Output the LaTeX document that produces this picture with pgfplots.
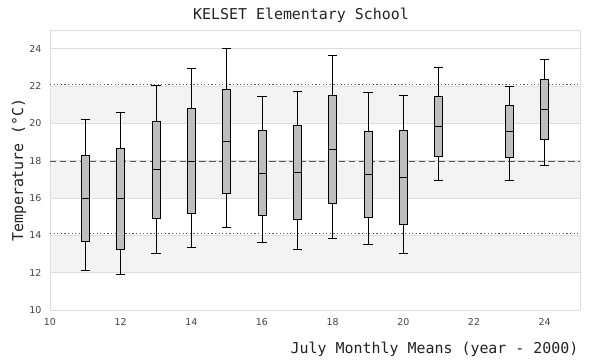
\documentclass[border=0pt]{standalone}
\usepackage{fontspec}
\setmainfont{DejaVu Sans}
\newfontfamily\monofont{DejaVu Sans Mono}
\usepackage{pgfplots}
\pgfplotsset{compat=1.18}
\usepgfplotslibrary{statistics}
\definecolor{band}{HTML}{F3F3F3}
\definecolor{gridc}{HTML}{DEDEDE}
\definecolor{boxfill}{HTML}{BEBEBE}
\definecolor{refl}{HTML}{555555}
\definecolor{tickc}{HTML}{444444}
\definecolor{textc}{HTML}{222222}
\pgfplotsset{
  bx/.style={draw=black, fill=boxfill, line width=0.8pt, solid},
}
\newcommand{\bp}[6]{%
  \addplot[bx, boxplot prepared={draw direction=y, draw position=#1, lower whisker=#2, lower quartile=#3, median=#4, upper quartile=#5, upper whisker=#6, box extend=0.23, whisker extend=0.26}] coordinates {};}
\begin{document}
\begin{tikzpicture}
\begin{axis}[name=ax, at={(0,0)}, anchor=south west,
  scale only axis, width=530bp, height=280bp,
  xmin=10, xmax=25, ymin=10, ymax=25,
  xtick={10,12,...,24}, ytick={10,12,...,24},
  axis line style={draw=gridc, line width=0.8pt},
  major tick length=0pt,
  ymajorgrids, grid style={draw=gridc, line width=0.8pt},
  ticklabel style={font=\fontsize{9.5}{11}\selectfont, text=tickc},
  /pgf/number format/assume math mode=true,
  xticklabel style={yshift=-5bp},
  yticklabel style={xshift=-5bp},
  set layers,
]
\begin{pgfonlayer}{axis background}
\fill[band] (axis cs:10,12) rectangle (axis cs:25,14);
\fill[band] (axis cs:10,16) rectangle (axis cs:25,18);
\fill[band] (axis cs:10,20) rectangle (axis cs:25,22);
\end{pgfonlayer}
\addplot[refl, line width=0.8pt, dash pattern=on 1.2pt off 2.4pt] coordinates {(10,22.1) (25,22.1)};
\addplot[refl, line width=0.8pt, dash pattern=on 1.2pt off 2.4pt] coordinates {(10,14.1) (25,14.1)};
\addplot[refl, line width=0.8pt, dash pattern=on 6.5pt off 3.5pt] coordinates {(10,17.97) (25,17.97)};
\bp{11}{12.11}{13.66}{15.96}{18.27}{20.20}
\bp{12}{11.89}{13.23}{15.96}{18.64}{20.60}
\bp{13}{13.02}{14.89}{17.52}{20.09}{22.02}
\bp{14}{13.34}{15.16}{17.95}{20.79}{22.93}
\bp{15}{14.41}{16.23}{19.02}{21.80}{24.00}
\bp{16}{13.61}{15.05}{17.30}{19.61}{21.43}
\bp{17}{13.23}{14.84}{17.36}{19.88}{21.70}
\bp{18}{13.82}{15.70}{18.59}{21.48}{23.63}
\bp{19}{13.50}{14.95}{17.25}{19.55}{21.64}
\bp{20}{13.02}{14.57}{17.09}{19.61}{21.52}
\bp{21}{16.93}{18.21}{19.82}{21.43}{23.02}
\bp{23}{16.93}{18.16}{19.55}{20.95}{22.00}
\bp{24}{17.73}{19.13}{20.73}{22.34}{23.41}
\end{axis}
\node[font=\monofont\fontsize{15}{17}\selectfont, text=textc, anchor=base] at (251bp,290bp) {KELSET Elementary School};
\node[font=\monofont\fontsize{15}{17}\selectfont, text=textc, anchor=base east] at (532bp,-43bp) {July Monthly Means (year - 2000)};
\node[font=\monofont\fontsize{15}{17}\selectfont, text=textc, rotate=90, anchor=center] at (-31bp,140bp) {Temperature (°C)};
\pgfresetboundingbox
\path (-50bp,-50bp) rectangle (550bp,310bp);
\end{tikzpicture}
\end{document}
